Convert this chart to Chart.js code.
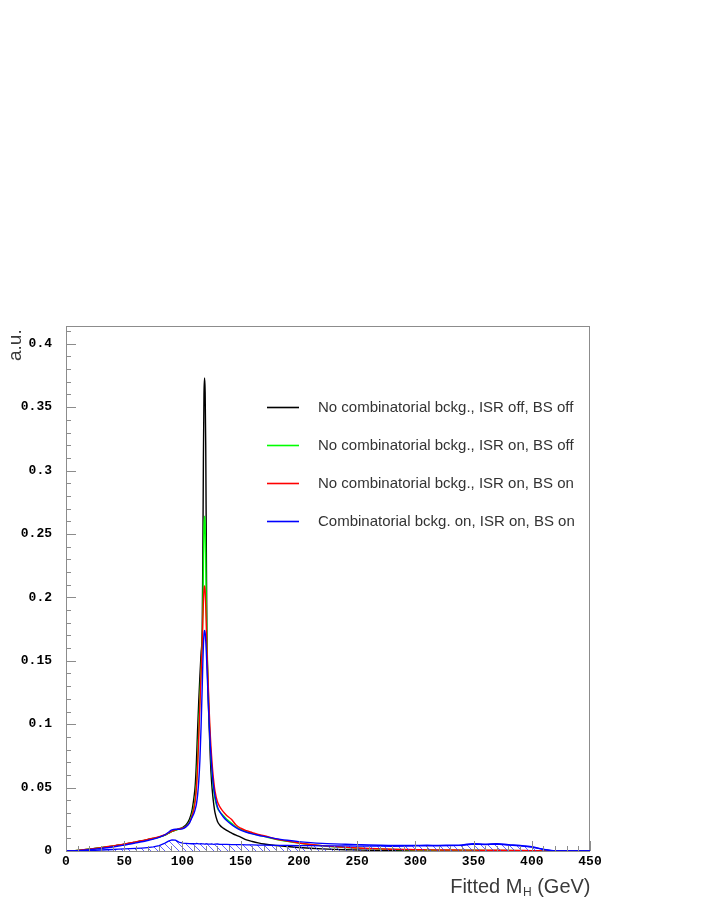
<!DOCTYPE html>
<html><head><meta charset="utf-8">
<script src="https://cdn.jsdelivr.net/npm/chart.js@4/dist/chart.umd.min.js"></script>
<style>html,body{margin:0;padding:0;background:#fff;}#wrap{width:708px;height:917px;}</style>
</head><body><div id="wrap"><canvas id="c" width="708" height="917"></canvas></div>
<script>
// ---- data ----
const massGeV = [0,5,10,15,20,25,30,35,40,45,50,55,60,65,70,75,80,85,88,91,94,97,100,103,106,108,
  110,111,112,113,114,115,116,117,117.5,118,118.5,119,119.5,120,120.5,121,122,123,124,125,126,127,128,
  130,132,135,138,142,146,150,155,160,165,170,
  180,190,200,210,220,230,240,250,260,270,280,290,300,310,320,330,340,350,360,370,380,390,400,410,420,430,440,450];

const noBkgIsrOffBsOff = [0,0.0002,0.0005,0.0009,0.0014,0.002,0.0026,0.0032,0.0038,0.0045,0.0053,0.0061,0.007,0.0079,0.0089,0.0099,0.011,0.0125,
  0.014,0.0155,0.0165,0.0175, 0.0185,0.0205,0.025,0.031,
  0.043,0.052,0.07,0.095,0.118,0.138,0.156,0.176,0.23,0.31,0.36,0.373,0.362,0.32,0.24,0.17,0.125,0.097,0.072,0.055,0.044,0.036,0.03,
  0.0235,0.0205,0.018,0.0162,0.0143,0.0125,0.011,0.0088,0.0075,0.0064,0.0055,
  0.0043,0.0035,0.0028,0.0022,0.0017,0.0013,0.001,0.0008,0.0006,0.0004,0.0003,0.0002,0.0001,0.0001,0,0,0,0,0,0,0,0,0,0,0,0,0,0];

const noBkgIsrOnBsOff = [0,0.0002,0.0005,0.0009,0.0014,0.002,0.0026,0.0032,0.0038,0.0045,0.0053,0.0061,0.007,0.0079,0.0089,0.0099,0.011,0.0125,
  0.014,0.0155,0.0165,0.0172, 0.018,0.0195,0.023,0.028,
  0.036,0.042,0.053,0.072,0.097,0.122,0.143,0.165,0.19,0.225,0.255,0.264,0.258,0.23,0.195,0.168,0.132,0.103,0.082,0.066,0.055,0.047,0.041,
  0.034,0.031,0.028,0.025,0.022,0.019,0.017,0.0152,0.0138,0.0126,0.0115,
  0.0092,0.0076,0.0062,0.005,0.0041,0.0034,0.0028,0.0023,0.0019,0.0016,0.0013,0.0011,0.0009,0.0008,0.0007,0.0007,0.0006,0.0006,0.0005,0.0005,0.0004,0.0003,0.0002,0.0001,0,0,0,0];

const noBkgIsrOnBsOn = [0,0.0002,0.0005,0.001,0.0015,0.0021,0.0027,0.0033,0.004,0.0047,0.0055,0.0063,0.0072,0.0081,0.0091,0.0101,0.0113,0.0128,
  0.0142,0.0156,0.0166,0.0174, 0.018,0.0193,0.0225,0.027,
  0.034,0.04,0.05,0.066,0.09,0.115,0.14,0.165,0.182,0.197,0.206,0.209,0.205,0.193,0.177,0.16,0.135,0.11,0.09,0.075,0.063,0.054,0.047,
  0.039,0.035,0.031,0.028,0.025,0.0205,0.018,0.016,0.0145,0.013,0.012,
  0.0095,0.0078,0.0063,0.0051,0.0042,0.0035,0.0029,0.0024,0.002,0.0017,0.0014,0.0012,0.001,0.0009,0.0008,0.0008,0.0007,0.0007,0.0006,0.0006,0.0005,0.0004,0.0003,0.0001,0,0,0,0];

const withBkgIsrOnBsOn = [0,0.0001,0.0003,0.0006,0.001,0.0015,0.002,0.0026,0.0032,0.0039,0.0047,0.0055,0.0064,0.0073,0.0083,0.0094,0.0108,0.0128,
  0.0148,0.0166,0.0172,0.0172, 0.0175,0.019,0.022,0.026,
  0.03,0.033,0.037,0.044,0.055,0.072,0.098,0.13,0.148,0.162,0.171,0.174,0.172,0.166,0.157,0.146,0.122,0.1,0.082,0.068,0.057,0.049,0.043,
  0.035,0.031,0.027,0.024,0.021,0.0185,0.0165,0.0148,0.0135,0.0124,0.0115,
  0.0098,0.0085,0.0074,0.0066,0.006,0.0056,0.0053,0.005,0.0047,0.0045,0.0044,0.0043,0.0044,0.0045,0.0044,0.0046,0.0048,0.0058,0.0053,0.0058,0.005,0.0043,0.0033,0.0014,0.0001,0,0,0];

const combinatorialOnly = [0,0.0001,0.0002,0.0003,0.0005,0.0006,0.0008,0.001,0.0012,0.0014,0.0016,0.0018,0.002,0.0023,0.0027,0.0032,0.0042,0.0062,
  0.0078,0.0088,0.0085,0.007, 0.0062,0.006,0.0058,0.0057,
  0.0058,0.0057,0.0059,0.0058,0.0056,0.0056,0.0058,0.0057,0.0057,0.0056,0.0056,0.0055,0.0055,0.0056,0.0056,0.0057,0.0055,0.0054,0.0055,0.0056,0.0054,0.0053,0.0054,
  0.0055,0.0053,0.0052,0.0053,0.0051,0.005,0.005,0.0049,0.0048,0.0047,0.0046,
  0.0045,0.0044,0.0043,0.0042,0.0041,0.004,0.004,0.0039,0.0038,0.0038,0.0037,0.0038,0.004,0.0041,0.004,0.0042,0.0044,0.0055,0.005,0.0055,0.0047,0.004,0.0031,0.0012,0,0,0,0];

const seriesLabels = [
  'No combinatorial bckg., ISR off, BS off',
  'No combinatorial bckg., ISR on, BS off',
  'No combinatorial bckg., ISR on, BS on',
  'Combinatorial bckg. on, ISR on, BS on'
];
const seriesColors = ['#000000', '#00ff00', '#ff0000', '#0000ff'];
const xTickStep = 50, xMinorStep = 10, xMin = 0, xMax = 450;
const yTickStep = 0.05, yMinorStep = 0.01, yMin = 0, yMax = 0.414;
const yTitle = 'a.u.';
const xTitleMain = 'Fitted M', xTitleSub = 'H', xTitleEnd = ' (GeV)';

// ---- build ----
const toPts = arr => massGeV.map((m, i) => ({x: m, y: arr[i]}));
const allSeries = [noBkgIsrOffBsOff, noBkgIsrOnBsOff, noBkgIsrOnBsOn, withBkgIsrOnBsOn];

function hatchPattern() {
  const s = 7, c = document.createElement('canvas');
  c.width = s; c.height = s;
  const g = c.getContext('2d');
  g.strokeStyle = 'rgba(50,50,255,0.75)'; g.lineWidth = 1;
  g.beginPath();
  g.moveTo(-1, -1); g.lineTo(s + 1, s + 1);
  g.moveTo(-1, s - 1); g.lineTo(1, s + 1);
  g.moveTo(s - 1, -1); g.lineTo(s + 1, 1);
  g.stroke();
  return g.createPattern(c, 'repeat');
}

const datasets = [{
  label: 'combinatorial',
  data: toPts(combinatorialOnly),
  borderColor: '#0000ff', borderWidth: 1.3,
  backgroundColor: hatchPattern(), fill: 'origin',
  pointRadius: 0, tension: 0, order: 0
}];
allSeries.forEach((arr, i) => datasets.push({
  label: seriesLabels[i], data: toPts(arr),
  borderColor: seriesColors[i], borderWidth: 1.4, fill: false,
  pointRadius: 0, cubicInterpolationMode: 'monotone', order: 4 - i
}));

const tickFont = {family: "'Liberation Mono', 'DejaVu Sans Mono', monospace", weight: 'bold', size: 13};

const decor = {
  id: 'decor',
  beforeDatasetsDraw(chart) {
    const {ctx, chartArea: a} = chart;
    ctx.save();
    ctx.strokeStyle = '#8c8c8c'; ctx.lineWidth = 1;
    ctx.strokeRect(a.left + 0.5, a.top + 0.5, a.right - a.left - 1, a.bottom - a.top);
    ctx.restore();
  },
  afterDatasetsDraw(chart) {
    const {ctx, chartArea: a, scales: {x, y}} = chart;
    ctx.save();
    ctx.strokeStyle = '#8c8c8c'; ctx.lineWidth = 1;
    ctx.beginPath();
    const ny = Math.round((yMax - yMin) / yMinorStep + 1e-6);
    for (let k = 0; k <= ny; k++) {
      const v = yMin + k * yMinorStep;
      const py = Math.round(y.getPixelForValue(v)) + 0.5;
      const len = (k % Math.round(yTickStep / yMinorStep) === 0) ? 10 : 5;
      ctx.moveTo(a.left, py); ctx.lineTo(a.left + len, py);
    }
    const nx = Math.round((xMax - xMin) / xMinorStep);
    for (let k = 0; k <= nx; k++) {
      const v = xMin + k * xMinorStep;
      const px = Math.round(x.getPixelForValue(v)) + 0.5;
      const len = (k % Math.round(xTickStep / xMinorStep) === 0) ? 10 : 5;
      ctx.moveTo(px, a.bottom); ctx.lineTo(px, a.bottom - len);
    }
    ctx.stroke();
    ctx.restore();
  },
  afterDraw(chart) {
    const {ctx, chartArea: a} = chart;
    ctx.save();
    // legend
    const lf = "15px 'Liberation Sans', Arial, sans-serif";
    ctx.font = lf; ctx.textBaseline = 'middle'; ctx.textAlign = 'left';
    for (let i = 0; i < seriesLabels.length; i++) {
      const yy = 407 + 38 * i;
      ctx.strokeStyle = seriesColors[i]; ctx.lineWidth = 1.6;
      ctx.beginPath(); ctx.moveTo(267, yy + 0.5); ctx.lineTo(299, yy + 0.5); ctx.stroke();
      ctx.fillStyle = '#333';
      ctx.fillText(seriesLabels[i], 318, yy + 1);
    }
    // y title
    ctx.fillStyle = '#3a3a3a';
    ctx.font = "19px 'Liberation Sans', Arial, sans-serif";
    ctx.textBaseline = 'alphabetic';
    ctx.translate(21, 361); ctx.rotate(-Math.PI / 2);
    ctx.fillText(yTitle, 0, 0);
    ctx.setTransform(1, 0, 0, 1, 0, 0);
    // x title
    const big = "20px 'Liberation Sans', Arial, sans-serif";
    const small = "12px 'Liberation Sans', Arial, sans-serif";
    ctx.font = big; const w1 = ctx.measureText(xTitleMain).width, w3 = ctx.measureText(xTitleEnd).width;
    ctx.font = small; const w2 = ctx.measureText(xTitleSub).width;
    let xs = a.right - (w1 + w2 + w3);
    const base = 893;
    ctx.font = big; ctx.fillText(xTitleMain, xs, base);
    ctx.font = small; ctx.fillText(xTitleSub, xs + w1 + 0.5, base + 3);
    ctx.font = big; ctx.fillText(xTitleEnd, xs + w1 + w2 + 0.5, base);
    ctx.restore();
  }
};

new Chart(document.getElementById('c'), {
  type: 'line',
  data: {datasets},
  options: {
    responsive: false, animation: false, devicePixelRatio: 1,
    layout: {padding: {top: 326, right: 118, left: 0, bottom: 0}},
    plugins: {legend: {display: false}, tooltip: {enabled: false}},
    scales: {
      x: {
        type: 'linear', min: xMin, max: xMax,
        ticks: {stepSize: xTickStep, font: tickFont, color: '#000', padding: 3, maxRotation: 0, autoSkip: false, includeBounds: false},
        grid: {display: false, drawTicks: false}, border: {display: false},
        afterFit(s) { s.height = 66; }
      },
      y: {
        type: 'linear', min: yMin, max: yMax,
        ticks: {stepSize: yTickStep, includeBounds: false, font: tickFont, color: '#000', padding: 14,
                callback: v => String(+Number(v).toFixed(3))},
        grid: {display: false, drawTicks: false}, border: {display: false},
        afterFit(s) { s.width = 66; }
      }
    }
  },
  plugins: [decor]
});
</script>
</body></html>
